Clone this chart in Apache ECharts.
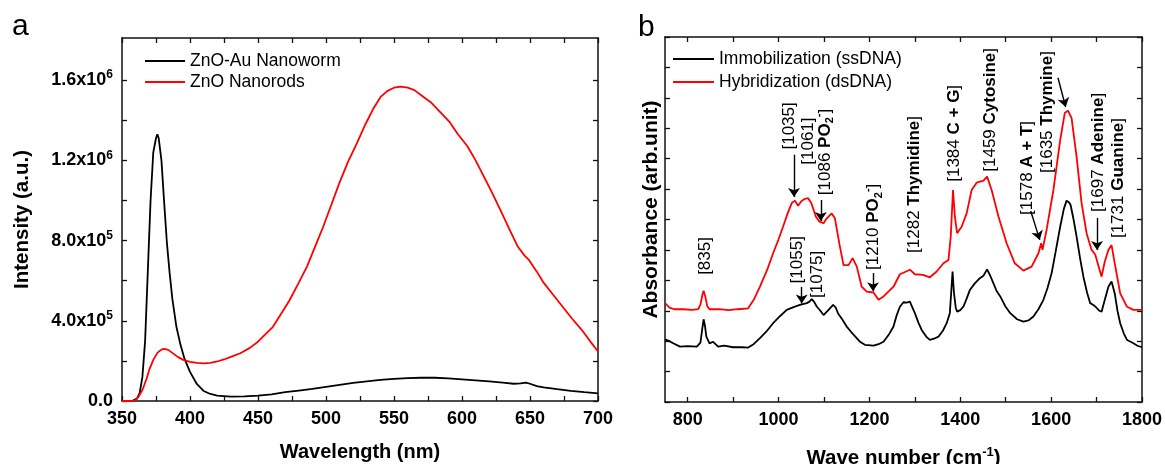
<!DOCTYPE html>
<html>
<head>
<meta charset="utf-8">
<title>PL and FTIR spectra</title>
<script src="https://cdn.jsdelivr.net/npm/echarts@6/dist/echarts.min.js"></script>
<style>
  html, body { margin: 0; padding: 0; background: #fff; }
  #chart { width: 1165px; height: 464px; }
</style>
</head>
<body>
<div id="chart"></div>
<script>
// ---------- panel a : photoluminescence ----------
const wlTicks = [350, 375, 400, 425, 450, 475, 500, 525, 550, 575, 600, 625, 650, 675, 700];
const wlLabels = [350, 400, 450, 500, 550, 600, 650, 700];
const intTicks = [0, 2e5, 4e5, 6e5, 8e5, 1e6, 1.2e6, 1.4e6, 1.6e6];
const intLabels = [0, 4e5, 8e5, 1.2e6, 1.6e6];

// [wavelength nm, intensity a.u.]
const znoAuNanoworm = [
  [350, 0], [355, 0], [358, 2000], [361, 12000], [363, 40000], [365, 120000], [367, 300000],
  [369, 650000], [371, 1000000], [373, 1240000], [375, 1310000], [376, 1330000], [377, 1310000],
  [379, 1200000], [381, 990000], [383, 790000], [385, 640000], [387, 510000], [390, 370000],
  [393, 280000], [396, 210000], [400, 145000], [405, 85000], [410, 50000], [415, 35000],
  [420, 27000], [430, 22000], [440, 23000], [450, 27000], [460, 33000], [470, 44000],
  [480, 52000], [490, 60000], [500, 70000], [510, 80000], [520, 90000], [530, 98000],
  [540, 105000], [550, 110000], [560, 114000], [570, 116000], [580, 116000], [590, 113000],
  [600, 108000], [610, 103000], [620, 98000], [630, 92000], [638, 86000], [643, 88000],
  [647, 92000], [650, 86000], [655, 74000], [660, 68000], [670, 59000], [680, 51000],
  [690, 44000], [700, 38000]
];
const znoNanorods = [
  [350, 0], [358, 0], [360, 5000], [362, 20000], [365, 55000], [368, 110000], [370, 155000],
  [373, 205000], [376, 240000], [379, 256000], [381, 260000], [384, 255000], [387, 240000],
  [391, 220000], [395, 205000], [400, 195000], [405, 190000], [410, 188000], [415, 190000],
  [420, 197000], [425, 207000], [430, 220000], [437, 238000], [444, 265000], [449, 290000],
  [455, 330000], [461, 370000], [467, 435000], [473, 500000], [480, 590000], [486, 670000],
  [492, 770000], [498, 870000], [504, 980000], [510, 1090000], [516, 1190000], [523, 1290000],
  [529, 1380000], [535, 1460000], [540, 1515000], [545, 1545000], [550, 1562000],
  [555, 1568000], [560, 1563000], [565, 1550000], [570, 1525000], [577, 1490000],
  [584, 1440000], [591, 1390000], [597, 1330000], [604, 1270000], [610, 1200000],
  [616, 1120000], [622, 1040000], [628, 955000], [635, 855000], [641, 770000], [646, 725000],
  [649, 705000], [655, 645000], [660, 590000], [667, 530000], [674, 470000], [681, 410000],
  [688, 355000], [694, 300000], [700, 247000]
];

// ---------- panel b : FTIR ----------
const wnTicks = [800, 900, 1000, 1100, 1200, 1300, 1400, 1500, 1600, 1700, 1800];
const wnLabels = [800, 1000, 1200, 1400, 1600, 1800];
const absTicks = [0, 1, 2, 3, 4, 5, 6, 7, 8, 9, 10, 11, 12];

// [wave number cm-1, absorbance arb.unit]
const ssDNA = [
  [750, 2.06], [760, 2.0], [768, 1.93], [783, 1.82], [800, 1.84], [820, 1.82], [828, 1.95],
  [832, 2.4], [835, 2.72], [838, 2.5], [841, 2.15], [848, 1.93], [856, 1.98], [867, 1.82],
  [880, 1.85], [900, 1.8], [920, 1.8], [933, 1.79], [945, 1.9], [959, 2.1], [975, 2.35],
  [988, 2.59], [1003, 2.82], [1018, 3.03], [1033, 3.12], [1047, 3.19], [1062, 3.25],
  [1068, 3.3], [1073, 3.38], [1078, 3.3], [1084, 3.14], [1092, 3.0], [1099, 2.86],
  [1110, 3.03], [1120, 3.19], [1126, 3.1], [1131, 2.91], [1140, 2.72], [1150, 2.48],
  [1160, 2.3], [1172, 2.1], [1180, 1.97], [1190, 1.88], [1209, 1.85], [1220, 1.9],
  [1231, 1.98], [1242, 2.2], [1253, 2.48], [1260, 2.85], [1267, 3.13], [1275, 3.28],
  [1282, 3.27], [1289, 3.3], [1300, 2.92], [1308, 2.6], [1315, 2.37], [1325, 2.15],
  [1333, 2.04], [1342, 2.08], [1352, 2.15], [1362, 2.35], [1370, 2.59], [1377, 2.92],
  [1380, 3.6], [1383, 4.29], [1386, 3.6], [1390, 3.1], [1393, 2.97], [1400, 3.02],
  [1407, 3.14], [1414, 3.4], [1421, 3.68], [1432, 3.9], [1443, 4.07], [1451, 4.15],
  [1459, 4.36], [1466, 4.15], [1473, 3.9], [1480, 3.65], [1488, 3.47], [1499, 3.15],
  [1510, 2.92], [1525, 2.72], [1539, 2.64], [1550, 2.68], [1561, 2.81], [1572, 3.05],
  [1583, 3.36], [1592, 3.75], [1601, 4.23], [1610, 4.95], [1620, 5.77], [1628, 6.35],
  [1634, 6.62], [1640, 6.55], [1643, 6.47], [1650, 5.95], [1656, 5.44], [1664, 4.7],
  [1671, 4.12], [1679, 3.6], [1686, 3.25], [1692, 3.2], [1697, 3.14], [1700, 3.2],
  [1706, 3.0], [1711, 2.97], [1718, 3.35], [1726, 3.79], [1733, 3.96], [1740, 3.57],
  [1746, 3.0], [1752, 2.59], [1760, 2.25], [1767, 2.04], [1775, 1.98], [1781, 1.93],
  [1790, 1.85], [1800, 1.8]
];
const dsDNA = [
  [750, 3.25], [760, 3.1], [770, 3.05], [790, 3.05], [810, 3.03], [823, 3.05], [828, 3.2],
  [832, 3.5], [835, 3.66], [839, 3.45], [843, 3.15], [848, 3.05], [870, 3.05], [890, 3.02],
  [910, 3.05], [933, 3.08], [945, 3.35], [959, 3.79], [975, 4.35], [988, 4.89], [1000, 5.35],
  [1010, 5.77], [1020, 6.2], [1029, 6.54], [1036, 6.62], [1043, 6.45], [1050, 6.6],
  [1058, 6.68], [1065, 6.7], [1072, 6.54], [1082, 6.1], [1090, 5.93], [1099, 5.88],
  [1106, 6.04], [1117, 6.2], [1124, 6.04], [1135, 5.11], [1143, 4.5], [1154, 4.5],
  [1163, 4.73], [1172, 4.46], [1183, 3.79], [1194, 3.63], [1209, 3.6], [1220, 3.36],
  [1231, 3.47], [1253, 3.79], [1267, 4.2], [1282, 4.3], [1289, 4.35], [1300, 4.2],
  [1318, 4.18], [1333, 4.1], [1348, 4.29], [1363, 4.56], [1374, 4.67], [1379, 5.44],
  [1384, 6.97], [1388, 6.1], [1393, 5.55], [1403, 5.76], [1414, 6.2], [1425, 6.97],
  [1436, 7.21], [1451, 7.28], [1459, 7.41], [1469, 6.97], [1484, 6.1], [1502, 5.22],
  [1520, 4.56], [1539, 4.32], [1557, 4.45], [1572, 4.89], [1578, 5.22], [1581, 5.0],
  [1590, 5.66], [1605, 6.97], [1620, 8.62], [1630, 9.5], [1637, 9.58], [1645, 9.33],
  [1656, 8.07], [1667, 6.54], [1678, 5.55], [1689, 5.0], [1697, 4.85], [1700, 4.9],
  [1711, 4.12], [1718, 4.61], [1726, 5.0], [1733, 5.16], [1740, 4.56], [1752, 3.57],
  [1767, 3.13], [1781, 3.03], [1800, 3.03]
];

// peak labels: [wave number, absorbance where the text starts, rich text]
const peakNotes = [
  [838, 4.18, '{n|[835]}'],
  [1023, 8.3, '{n|[1035]}'],
  [1065, 7.8, '{n|[1061]}'],
  [1102, 6.8, '{n|[1086 }{b|PO}{sub|2}{sup|-}{n|]}'],
  [1041, 3.9, '{n|[1055]}'],
  [1086, 3.42, '{n|[1075]}'],
  [1208, 4.34, '{n|[1210 }{b|PO}{sub|2}{sup|-}{n|]}'],
  [1298, 4.9, '{n|[1282 }{b|Thymidine}{n|]}'],
  [1386, 7.24, '{n|[1384 }{b|C + G}{n|]}'],
  [1465, 7.57, '{n|[1459 }{b|Cytosine}{n|]}'],
  [1547, 6.15, '{n|[1578 }{b|A + T}{n|]}'],
  [1592, 7.53, '{n|[1635 }{b|Thymine}{n|]}'],
  [1703, 6.25, '{n|[1697 }{b|Adenine}{n|]}'],
  [1747, 5.39, '{n|[1731 }{b|Guanine}{n|]}']
];
// arrows: [from wn, from abs, to wn, to abs]
const peakArrows = [
  [1034, 8.13, 1034, 6.74],
  [1093, 6.64, 1093, 5.95],
  [1051, 3.78, 1051, 3.24],
  [1208, 4.24, 1208, 3.64],
  [1555, 6.28, 1575, 5.33],
  [1615, 10.66, 1632, 9.7],
  [1701, 6.05, 1701, 5.0]
];

const FONT = "'Liberation Sans', Arial, Helvetica, sans-serif";

function sci(v) {
  if (v === 0) return '{n|0.0}';
  const e = Math.floor(Math.log10(v) + 1e-9);
  return '{n|' + (v / Math.pow(10, e)).toFixed(1) + 'x10}{s|' + e + '}';
}

// one side of a plot frame
function frameAxis(grid, pos, min, max, ticks, labels, extra) {
  return Object.assign({
    type: 'value', gridIndex: grid, position: pos, min: min, max: max,
    splitLine: { show: false },
    axisLine: { show: true, onZero: false, lineStyle: { color: '#111', width: 1.5 } },
    axisTick: { show: true, inside: true, length: 5, customValues: ticks, lineStyle: { color: '#111', width: 1.3 } },
    axisLabel: labels ? {
      show: true, customValues: labels, color: '#000', fontSize: 18, fontWeight: 'bold',
      fontFamily: FONT, margin: 9, formatter: v => String(v)
    } : { show: false }
  }, extra || {});
}

const nameStyle = { color: '#000', fontSize: 20, fontWeight: 'bold', fontFamily: FONT };
const noteRich = {
  n: { fontSize: 17, fontFamily: FONT, color: '#000', lineHeight: 22 },
  b: { fontSize: 17, fontFamily: FONT, color: '#000', fontWeight: 'bold', lineHeight: 22 },
  sub: { fontSize: 11, fontFamily: FONT, color: '#000', fontWeight: 'bold', verticalAlign: 'bottom', lineHeight: 12 },
  sup: { fontSize: 11, fontFamily: FONT, color: '#000', fontWeight: 'bold', verticalAlign: 'top', lineHeight: 12 }
};

const chart = echarts.init(document.getElementById('chart'), null, { renderer: 'canvas' });

const option = {
  animation: false,
  backgroundColor: '#fff',
  textStyle: { fontFamily: FONT },
  title: [
    { text: 'a', left: 12, top: 12, padding: 0, textStyle: { fontSize: 30, fontWeight: 'normal', color: '#000', fontFamily: FONT } },
    { text: 'b', left: 638, top: 13, padding: 0, textStyle: { fontSize: 30, fontWeight: 'normal', color: '#000', fontFamily: FONT } }
  ],
  legend: [
    {
      data: ['ZnO-Au Nanoworm', 'ZnO Nanorods'], orient: 'vertical', left: 145, top: 52, padding: 0,
      icon: 'rect', itemWidth: 40, itemHeight: 2, itemGap: 3, selectedMode: false,
      textStyle: { fontSize: 17.5, color: '#000', fontFamily: FONT }
    },
    {
      data: ['Immobilization (ssDNA)', 'Hybridization (dsDNA)'], orient: 'vertical', left: 673, top: 50, padding: 0,
      icon: 'rect', itemWidth: 41, itemHeight: 2, itemGap: 5, selectedMode: false,
      textStyle: { fontSize: 17.5, color: '#000', fontFamily: FONT }
    }
  ],
  grid: [
    { left: 122, right: 567, top: 38, bottom: 63, containLabel: false, outerBoundsMode: 'none' },
    { left: 665, right: 23, top: 37, bottom: 62, containLabel: false, outerBoundsMode: 'none' }
  ],
  xAxis: [
    frameAxis(0, 'bottom', 350, 700, wlTicks, wlLabels, {
      name: 'Wavelength (nm)', nameLocation: 'middle', nameGap: 41, nameTextStyle: nameStyle
    }),
    frameAxis(0, 'top', 350, 700, wlTicks, null),
    frameAxis(1, 'bottom', 750, 1800, wnTicks, wnLabels, {
      name: '{n|Wave number (cm}{s|-1}{n|)}', nameLocation: 'middle', nameGap: 44,
      nameTextStyle: {
        rich: {
          n: { fontSize: 20.5, fontWeight: 'bold', fontFamily: FONT, color: '#000', lineHeight: 24 },
          s: { fontSize: 13, fontWeight: 'bold', fontFamily: FONT, color: '#000', verticalAlign: 'top', lineHeight: 13 }
        }
      }
    }),
    frameAxis(1, 'top', 750, 1800, wnTicks, null)
  ],
  yAxis: [
    frameAxis(0, 'left', 0, 1.81e6, intTicks, intLabels, {
      name: 'Intensity (a.u.)', nameLocation: 'middle', nameGap: 89,
      nameTextStyle: Object.assign({}, nameStyle, { fontSize: 20.5 })
    }),
    frameAxis(0, 'right', 0, 1.81e6, intTicks, null),
    frameAxis(1, 'left', 0, 12, absTicks, null, {
      name: 'Absorbance (arb.unit)', nameLocation: 'middle', nameGap: 3,
      nameTextStyle: Object.assign({}, nameStyle, { fontSize: 21, padding: [0, 0, 0, 20] })
    }),
    frameAxis(1, 'right', 0, 12, absTicks, null)
  ],
  series: [
    {
      name: 'ZnO-Au Nanoworm', type: 'line', xAxisIndex: 0, yAxisIndex: 0, data: znoAuNanoworm,
      showSymbol: false, silent: true, lineStyle: { color: '#000', width: 1.8 }, itemStyle: { color: '#000' }
    },
    {
      name: 'ZnO Nanorods', type: 'line', xAxisIndex: 0, yAxisIndex: 0, data: znoNanorods,
      showSymbol: false, silent: true, lineStyle: { color: '#f00', width: 1.8 }, itemStyle: { color: '#f00' }
    },
    {
      name: 'Immobilization (ssDNA)', type: 'line', xAxisIndex: 2, yAxisIndex: 2, data: ssDNA,
      showSymbol: false, silent: true, lineStyle: { color: '#000', width: 1.8 }, itemStyle: { color: '#000' }
    },
    {
      name: 'Hybridization (dsDNA)', type: 'line', xAxisIndex: 2, yAxisIndex: 2, data: dsDNA,
      showSymbol: false, silent: true, lineStyle: { color: '#f00', width: 1.8 }, itemStyle: { color: '#f00' },
      markPoint: {
        silent: true, symbol: 'circle', symbolSize: 0, animation: false,
        label: { show: true, position: [0, 0], rotate: 90, align: 'left', verticalAlign: 'middle', rich: noteRich },
        data: peakNotes.map(p => ({
          coord: [p[0], p[1]],
          label: { formatter: () => p[2] }
        }))
      },
      markLine: {
        silent: true, animation: false, symbol: ['none', 'arrow'], symbolSize: 9,
        label: { show: false },
        lineStyle: { color: '#000', width: 1.4, type: 'solid' },
        itemStyle: { color: '#000' },
        emphasis: { disabled: true },
        data: peakArrows.map(a => [{ coord: [a[0], a[1]] }, { coord: [a[2], a[3]] }])
      }
    }
  ]
};

option.yAxis[0].axisLabel.formatter = sci;
option.yAxis[0].axisLabel.rich = {
  n: { fontSize: 18, fontWeight: 'bold', fontFamily: FONT, color: '#000', lineHeight: 22 },
  s: { fontSize: 12, fontWeight: 'bold', fontFamily: FONT, color: '#000', verticalAlign: 'top', lineHeight: 12 }
};

chart.setOption(option);
window.onresize = () => chart.resize();
</script>
</body>
</html>
